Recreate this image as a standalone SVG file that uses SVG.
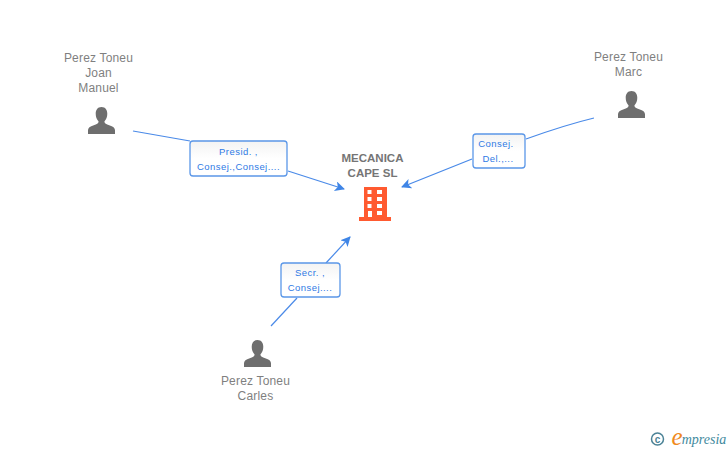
<svg xmlns="http://www.w3.org/2000/svg" width="728" height="450" viewBox="0 0 728 450">
<style>
text{font-family:"Liberation Sans",Arial,sans-serif;text-anchor:middle}
.n{font-size:12px;fill:#7f7f7f;letter-spacing:.18px}
.c{font-size:11.500px;font-weight:bold;fill:#757575}
.l{font-size:9.500px;fill:#2f7ae5;letter-spacing:.45px}
.b{fill:url(#g);stroke:#5b97e8;stroke-width:1.3}
.e{fill:none;stroke:#4a8ae8;stroke-width:1.2}
.p{fill:#6e6e6e}
</style>
<defs>
<linearGradient id="g" x1="0" y1="0" x2="0" y2="1"><stop offset="0" stop-color="#f3f3f3"/><stop offset=".5" stop-color="#fff"/><stop offset="1" stop-color="#fff"/></linearGradient>
<marker id="a" markerWidth="12" markerHeight="12" refX="9" refY="5" orient="auto" markerUnits="userSpaceOnUse"><path d="M0 0L10 5L0 10L2.500 5Z" fill="#3f85e6"/></marker>
<symbol id="person" viewBox="0 0 28 28" overflow="visible"><path class="p" d="M14 0c4 0 6 3 6 7c0 3-1 6-3 8c0 2 2 3 5 4c4 1 6 3 6 5v4H0v-4c0-2 2-4 6-5c3-1 5-2 5-4c-2-2-3-5-3-8c0-4 2-7 6-7Z"/></symbol>
</defs>
<g id="connectors">
<path class="e" d="M133 131L190 141"/>
<path class="e" d="M288 171L344 189" marker-end="url(#a)"/>
<path class="e" d="M594 118Q565 125 526 139"/>
<path class="e" d="M472 159L402 187" marker-end="url(#a)"/>
<path class="e" d="M271 326L297 298"/>
<path class="e" d="M326 263L350 237" marker-end="url(#a)"/>
</g>
<g id="node-joan">
<text class="n" x="98.500" y="62">Perez Toneu</text><text class="n" x="98.500" y="77">Joan</text><text class="n" x="98.500" y="92">Manuel</text>
<use href="#person" x="88" y="107" width="27" height="27"/>
</g>
<g id="node-marc">
<text class="n" x="628.500" y="61">Perez Toneu</text><text class="n" x="628.500" y="76">Marc</text>
<use href="#person" x="618" y="91" width="27" height="27"/>
</g>
<g id="node-carles">
<use href="#person" x="244" y="340" width="27" height="27"/>
<text class="n" x="255.500" y="385">Perez Toneu</text><text class="n" x="255.500" y="400">Carles</text>
</g>
<g id="node-company">
<text class="c" x="372.500" y="162">MECANICA</text><text class="c" x="372.500" y="177">CAPE SL</text>
<path fill="#ff5a30" fill-rule="evenodd" d="M364 187H387V217H391V221H359V217H364ZM367.500 190v4h4v-4ZM377 190v4h5v-4ZM367.500 197v4h4v-4ZM377 197v4h5v-4ZM367.500 204v4h4v-4ZM377 204v4h5v-4ZM368 211v6h4v-6ZM377 211v4h5v-4Z"/>
</g>
<g id="label-joan">
<rect class="b" x="190" y="141" width="97" height="35" rx="3"/>
<text class="l" x="238.500" y="155">Presid. ,</text><text class="l" x="238.500" y="170">Consej.,Consej....</text>
</g>
<g id="label-marc">
<rect class="b" x="473" y="134" width="52" height="34" rx="3"/>
<text class="l" x="496" y="147">Consej.</text><text class="l" x="498" y="162">Del.,...</text>
</g>
<g id="label-carles">
<rect class="b" x="281" y="263" width="59" height="34" rx="3"/>
<text class="l" x="310" y="276">Secr. ,</text><text class="l" x="310" y="291">Consej....</text>
</g>
<g id="credit">
<circle cx="657.500" cy="439" r="6" fill="none" stroke="#4b8296" stroke-width="1.500"/>
<text x="657.500" y="442.500" style="font-size:10px;font-weight:bold;fill:#4b8296">c</text>
<text x="677" y="445" style="font-size:25px;fill:#f08a1d;font-family:'Liberation Serif',serif;font-style:italic">e</text>
<text x="704" y="444" style="font-size:14px;fill:#3f8a9e;font-style:italic;font-family:'Liberation Serif',serif">mpresia</text>
</g>
</svg>
